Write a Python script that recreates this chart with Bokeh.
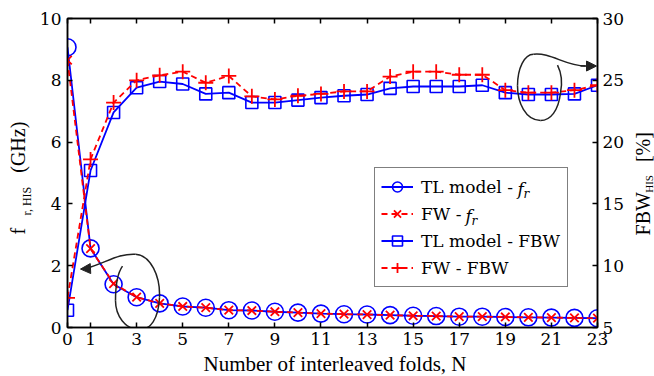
import math
from bokeh.plotting import figure
from bokeh.models import (Range1d, LinearAxis, FixedTicker, Legend, LegendItem,
                          Label, Arrow, NormalHead, ColumnDataSource)
from bokeh.embed import file_html
from bokeh.resources import INLINE

# ---------------- data ----------------
N = list(range(24))
fr_tl = [9.07, 2.56, 1.40, 0.98, 0.78, 0.68, 0.64, 0.56, 0.55, 0.51, 0.48, 0.45,
         0.43, 0.42, 0.40, 0.38, 0.37, 0.35, 0.35, 0.34, 0.33, 0.32, 0.31, 0.30]
fr_fw = [8.65, 2.55, 1.42, 0.98, 0.78, 0.68, 0.64, 0.56, 0.55, 0.51, 0.48, 0.45,
         0.43, 0.42, 0.40, 0.38, 0.37, 0.35, 0.35, 0.34, 0.33, 0.32, 0.31, 0.30]
fbw_tl = [6.4, 17.7, 22.4, 24.4, 24.9, 24.7, 23.9, 24.0, 23.2, 23.2, 23.4, 23.6,
          23.75, 23.85, 24.35, 24.5, 24.5, 24.5, 24.6, 24.0, 23.85, 23.85, 23.9, 24.6]
fbw_fw = [7.4, 18.6, 23.2, 25.0, 25.4, 25.7, 24.8, 25.35, 23.7, 23.45, 23.75, 23.9,
          24.1, 24.1, 25.3, 25.7, 25.7, 25.45, 25.45, 24.2, 24.0, 24.0, 24.2, 24.6]
x_ticks = [0, 1, 3, 5, 7, 9, 11, 13, 15, 17, 19, 21, 23]
y_ticks = [0, 2, 4, 6, 8, 10]
y2_ticks = [5, 10, 15, 20, 25, 30]
legend_labels = ["TL model - ", "FW - ", "TL model - FBW", "FW - FBW"]
NB = "\u00a0"

# ---------------- layout / style ----------------
W, H = 654, 376
FL, FR, FT, FB = 67, 597, 15, 327
BLUE, RED, DARK = "#0000ff", "#ff0000", "#222222"
AXFONT = "DejaVu Serif"
LFONT = "Liberation Serif"


def dx(px):
    return (px - FL) * 23.0 / (FR - FL)


def dy(py):
    return (FB - py) * 10.0 / (FB - FT)


p = figure(width=W, height=H, x_range=Range1d(0, 23), y_range=Range1d(0, 10),
           output_backend="svg", toolbar_location=None,
           min_border_left=FL, min_border_right=W - FR,
           min_border_top=FT, min_border_bottom=H - FB,
           background_fill_color="white", border_fill_color="white")
p.extra_y_ranges = {"fbw": Range1d(5, 30)}
p.xgrid.grid_line_color = None
p.ygrid.grid_line_color = None
p.outline_line_color = "black"
p.outline_line_width = 1.5


def style_axis(ax, ticks, show_labels=True, standoff=6):
    ax.ticker = FixedTicker(ticks=ticks)
    ax.minor_tick_line_color = None
    ax.major_tick_in = 5
    ax.major_tick_out = 0
    ax.major_tick_line_width = 1.5
    ax.axis_line_width = 1.5
    ax.axis_line_color = "black"
    ax.major_label_text_font = AXFONT
    ax.major_label_text_color = "black"
    if show_labels:
        ax.major_label_text_font_size = "17px"
        ax.major_label_standoff = standoff
    else:
        ax.major_label_text_alpha = 0
        ax.major_label_text_font_size = "1px"
        ax.major_label_standoff = 0


style_axis(p.xaxis[0], x_ticks, standoff=5)
style_axis(p.yaxis[0], y_ticks)
top_ax = LinearAxis()
style_axis(top_ax, x_ticks, show_labels=False)
p.add_layout(top_ax, "above")
right_ax = LinearAxis(y_range_name="fbw")
style_axis(right_ax, y2_ticks, standoff=5)
p.add_layout(right_ax, "right")

src = ColumnDataSource(dict(N=N, fr_tl=fr_tl, fr_fw=fr_fw, fbw_tl=fbw_tl, fbw_fw=fbw_fw))

l1 = p.line("N", "fr_tl", source=src, line_color=BLUE, line_width=1.8)
s1 = p.scatter("N", "fr_tl", source=src, marker="circle", size=17,
               line_color=BLUE, fill_color=None, line_width=1.6)
l2 = p.line("N", "fr_fw", source=src, line_color=RED, line_width=1.8, line_dash="6 4")
s2 = p.scatter("N", "fr_fw", source=src, marker="x", size=12,
               line_color=RED, line_width=1.8)
l3 = p.line("N", "fbw_tl", source=src, y_range_name="fbw", line_color=BLUE, line_width=1.8)
s3 = p.scatter("N", "fbw_tl", source=src, y_range_name="fbw", marker="square", size=12,
               line_color=BLUE, fill_color=None, line_width=1.6)
l4 = p.line("N", "fbw_fw", source=src, y_range_name="fbw", line_color=RED,
            line_width=1.8, line_dash="6 4")
s4 = p.scatter("N", "fbw_fw", source=src, y_range_name="fbw", marker="cross", size=15,
               line_color=RED, line_width=1.8)

# ---------------- legend ----------------
legend = Legend(items=[
    LegendItem(label=legend_labels[0], renderers=[l1, s1]),
    LegendItem(label=legend_labels[1], renderers=[l2, s2]),
    LegendItem(label=legend_labels[2], renderers=[l3, s3]),
    LegendItem(label=legend_labels[3], renderers=[l4, s4]),
], location=(307, 40))
legend.border_line_color = "black"
legend.border_line_width = 1
legend.background_fill_alpha = 0
legend.label_text_font = AXFONT
legend.label_text_font_size = "17px"
legend.label_text_color = "black"
legend.glyph_width = 32
legend.glyph_height = 25
legend.label_height = 25
legend.label_standoff = 8
legend.label_width = 140
legend.padding = 6
legend.spacing = 2
legend.margin = 0
p.add_layout(legend)


def lab(text, px, py, size, style="normal", angle=0.0, baseline="alphabetic",
        font=LFONT, place="center"):
    lb = Label(x=dx(px), y=dy(py), text=text, angle=angle,
               text_font=font, text_font_size=f"{size}px",
               text_font_style=style, text_align="left",
               text_baseline=baseline, text_color="black")
    if place == "center":
        p.add_layout(lb)
    else:
        p.add_layout(lb, place)


# italic f_r pieces of the legend entries (legend background is transparent)
for fx, row_y in [(517, 187.5), (465, 214.5)]:
    lab("f", fx, row_y, 17, "italic", baseline="middle", font=AXFONT)
    lab("r", fx + 6, row_y + 5, 12, "italic", baseline="middle", font=AXFONT)

up = math.pi / 2
# x axis title
lab("Number of interleaved folds, N", 203, 364, 21, place="below")
# left y axis title (rotated): main text and subscript
lab("f" + NB * 11 + "(GHz)", 17, 233, 20, angle=up, place="left")
lab("r, HIS", 26, 214, 12, angle=up, place="left")
# right y axis title (rotated): main text and subscript
lab("FBW" + NB * 6 + "[%]", 642, 234, 20, angle=up, place="right")
lab("HIS", 648, 191, 11, angle=up, place="above")

# ---------------- annotation loops with arrows ----------------
loop_low = [((84, 268), (105, 262), (118, 252), (135, 253)),
            ((135, 253), (150, 254), (160, 275), (159, 297)),
            ((159, 297), (158, 318), (150, 330), (138, 329)),
            ((138, 329), (125, 329), (115, 315), (115, 300)),
            ((115, 300), (115, 285), (117, 272), (122, 265))]
loop_high = [((557, 62), (561, 70), (562, 80), (560, 90)),
             ((560, 90), (558, 108), (550, 118), (540, 118)),
             ((540, 118), (525, 118), (517, 100), (517, 83)),
             ((517, 83), (517, 65), (524, 51), (533, 51)),
             ((533, 51), (550, 49), (565, 63), (585, 63))]
for segs in (loop_low, loop_high):
    p.bezier(x0=[dx(s[0][0]) for s in segs], y0=[dy(s[0][1]) for s in segs],
             cx0=[dx(s[1][0]) for s in segs], cy0=[dy(s[1][1]) for s in segs],
             cx1=[dx(s[2][0]) for s in segs], cy1=[dy(s[2][1]) for s in segs],
             x1=[dx(s[3][0]) for s in segs], y1=[dy(s[3][1]) for s in segs],
             line_color=DARK, line_width=1.5)

p.add_layout(Arrow(end=NormalHead(size=10, fill_color=DARK, line_color=DARK, line_width=1),
                   x_start=dx(90), y_start=dy(267.5), x_end=dx(80), y_end=dy(268),
                   line_color=DARK, line_width=1.5))
p.add_layout(Arrow(end=NormalHead(size=10, fill_color=DARK, line_color=DARK, line_width=1),
                   x_start=dx(580), y_start=dy(63), x_end=dx(596), y_end=dy(63),
                   line_color=DARK, line_width=1.5))

open("out.html", "w").write(file_html(p, INLINE))
